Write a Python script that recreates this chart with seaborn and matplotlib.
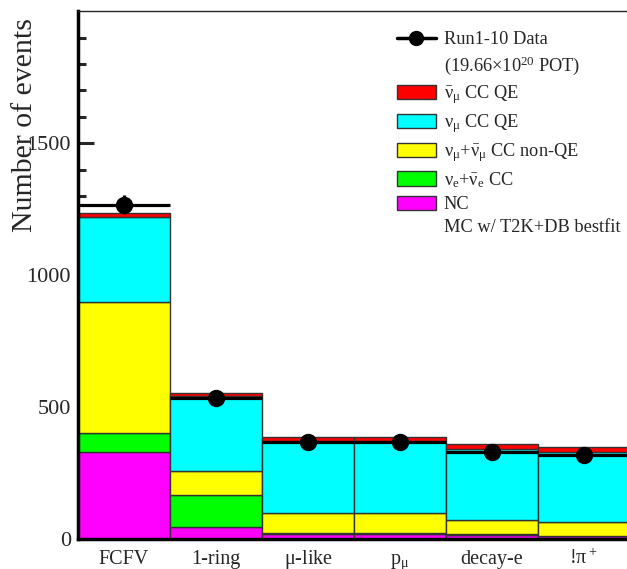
import numpy as np
import pandas as pd
import seaborn as sns
import matplotlib
matplotlib.use("Agg")
import matplotlib.pyplot as plt
from matplotlib.lines import Line2D
from matplotlib.patches import Patch

# selection steps (one bin each)
cuts = ["FCFV", "1-ring", r"$\mu$-like", r"p$_\mu$", "decay-e", r"!$\pi^+$"]

# MC prediction per component
numubar_ccqe = [17, 11, 16, 16, 19, 16]
numu_ccqe = [320, 283, 271, 271, 268, 265]
numu_cc_nonqe = [496, 91, 78, 78, 54, 53]
nue_cc = [74, 120, 3, 3, 3, 2]
nc = [330, 48, 20, 20, 16, 12]

# data points
data_counts = [1268, 536, 368, 368, 332, 319]
data_err = [36, 23, 19, 19, 18, 18]

comp_names = [r"$\bar{\nu}_\mu$ CC QE", r"$\nu_\mu$ CC QE",
              r"$\nu_\mu$+$\bar{\nu}_\mu$ CC non-QE", r"$\nu_e$+$\bar{\nu}_e$ CC", "NC"]
comp_values = [numubar_ccqe, numu_ccqe, numu_cc_nonqe, nue_cc, nc]
comp_colors = ["#ff0000", "#00ffff", "#ffff00", "#00ff00", "#ff00ff"]

sns.set_style("ticks")
plt.rcParams["font.family"] = ["Liberation Serif", "DejaVu Serif"]
plt.rcParams["mathtext.default"] = "regular"

# long table: one row per (bin, component)
rows = []
for name, vals in zip(comp_names, comp_values):
    for i, v in enumerate(vals):
        rows.append({"bin": i + 0.5, "component": name, "count": v})
df = pd.DataFrame(rows)

fig = plt.figure(figsize=(6.27, 5.69), dpi=100)
ax = fig.add_axes([78 / 627, (569 - 539.3) / 569, 552 / 627, 528 / 569])

# seaborn stacks the first hue level on top
sns.histplot(data=df, x="bin", weights="count", hue="component",
             hue_order=comp_names, palette=comp_colors, binwidth=1, binrange=(0, 6),
             multiple="stack", element="bars", alpha=1, edgecolor="#333333",
             linewidth=1.0, legend=False, ax=ax)

centers = np.arange(len(cuts)) + 0.5
ax.errorbar(centers, data_counts, yerr=data_err, xerr=0.5, fmt="o",
            color="black", ms=11.5, elinewidth=2.3, capsize=0, zorder=5)

ax.set_xlim(0, 6)
ax.set_ylim(0, 2000)
ax.set_xlabel("")
ax.set_ylabel("Number of events", fontsize=21.5)
ax.yaxis.set_label_coords(-0.073, 0.784)

ax.set_yticks([0, 500, 1000, 1500])
ax.set_yticks(np.arange(0, 2000, 100), minor=True)
ax.tick_params(axis="y", which="major", direction="in", length=11.5, width=2.2,
               labelsize=16, pad=5)
ax.tick_params(axis="y", which="minor", direction="in", length=5.8, width=2.2)

ax.set_xticks(np.arange(1, 6))
ax.set_xticklabels([])
ax.set_xticks(centers, minor=True)
ax.set_xticklabels(cuts, minor=True)
ax.tick_params(axis="x", which="major", direction="in", length=11.5, width=2.2)
ax.tick_params(axis="x", which="minor", length=0, labelsize=14.5, pad=17.5)
plt.setp(ax.xaxis.get_minorticklabels(), va="baseline")

ax.spines["right"].set_visible(False)
ax.spines["top"].set_linewidth(1.0)
for side in ["left", "bottom"]:
    ax.spines[side].set_linewidth(2.5)
    ax.spines[side].set_color("black")

handles = [Line2D([], [], color="black", lw=2.5, marker="o", ms=10),
           Line2D([], [], linestyle="none")]
labels = ["Run1-10 Data", r"(19.66$\times$10$^{20}$ POT)"]
for name, col in zip(comp_names, comp_colors):
    handles.append(Patch(facecolor=col, edgecolor="#333333", linewidth=1))
    labels.append(name)
handles.append(Line2D([], [], linestyle="none"))
labels.append("MC w/ T2K+DB bestfit")

fig.legend(handles, labels, loc="upper left",
           bbox_to_anchor=(397 / 627, 1 - 31 / 569), frameon=False,
           fontsize=13.2, handlelength=2.1, handleheight=0.8,
           handletextpad=0.45, labelspacing=0.33, borderpad=0, borderaxespad=0)

fig.savefig("out.png", dpi=100)
